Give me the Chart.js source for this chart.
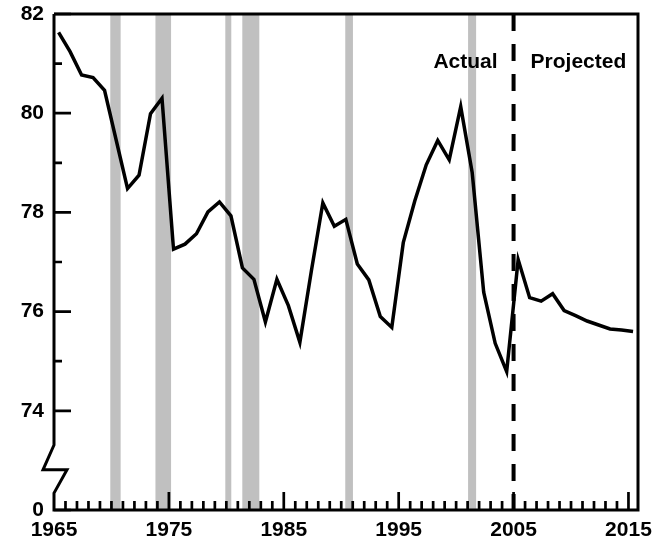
<!DOCTYPE html>
<html>
<head>
<meta charset="utf-8">
<script src="https://cdn.jsdelivr.net/npm/chart.js@4.4.0/dist/chart.umd.min.js"></script>
<style>
  html, body { margin: 0; padding: 0; background: #fff; }
  #wrap { width: 667px; height: 544px; }
</style>
</head>
<body>
<div id="wrap"><canvas id="chart" width="667" height="544"></canvas></div>
<script>
// Data
const years = [
  1965, 1966, 1967, 1968, 1969, 1970, 1971, 1972, 1973, 1974,
  1975, 1976, 1977, 1978, 1979, 1980, 1981, 1982, 1983, 1984,
  1985, 1986, 1987, 1988, 1989, 1990, 1991, 1992, 1993, 1994,
  1995, 1996, 1997, 1998, 1999, 2000, 2001, 2002, 2003, 2004,
  2005, 2006, 2007, 2008, 2009, 2010, 2011, 2012, 2013, 2014, 2015
];
const values = [
  81.63, 81.24, 80.77, 80.72, 80.46, 79.47, 78.48, 78.75, 79.99, 80.30,
  77.26, 77.36, 77.57, 78.01, 78.21, 77.93, 76.88, 76.65, 75.79, 76.65,
  76.12, 75.38, 76.82, 78.19, 77.72, 77.86, 76.96, 76.64, 75.90, 75.68,
  77.39, 78.23, 78.96, 79.45, 79.06, 80.13, 78.80, 76.39, 75.36, 74.79,
  77.05, 76.28, 76.21, 76.36, 76.02, 75.92, 75.81, 75.73, 75.65, 75.63, 75.60
];
const recessionStart = [1969.9, 1973.83, 1979.91, 1981.39, 1990.35, 2001.04];
const recessionEnd   = [1970.8, 1975.19, 1980.43, 1982.87, 1991.02, 2001.74];
const projectionStart = 2005;
const xTickValues = [1965, 1975, 1985, 1995, 2005, 2015];
const yTickValues = [72, 74, 76, 78, 80, 82];
const yTickLabels = ['0', '74', '76', '78', '80', '82'];
const yMinorTicks = [75, 77, 79, 81];

const FONT = '"Liberation Sans", Arial, sans-serif';

const overlay = {
  id: 'overlay',
  beforeDatasetsDraw(chart) {
    const { ctx, chartArea: a, scales: { x } } = chart;
    ctx.save();
    ctx.fillStyle = '#c0c0c0';
    recessionStart.forEach((s, i) => {
      const x0 = x.getPixelForValue(s);
      const x1 = x.getPixelForValue(recessionEnd[i]);
      ctx.fillRect(x0, a.top, x1 - x0, a.bottom - a.top);
    });
    ctx.restore();
  },
  afterDatasetsDraw(chart) {
    const { ctx, chartArea: a, scales: { x, y } } = chart;
    ctx.save();
    ctx.strokeStyle = '#000';
    ctx.lineCap = 'butt';

    // actual / projected divider
    const xd = x.getPixelForValue(projectionStart);
    ctx.lineWidth = 4;
    ctx.setLineDash([17, 13]);
    ctx.beginPath();
    ctx.moveTo(xd, a.top);
    ctx.lineTo(xd, a.bottom);
    ctx.stroke();
    ctx.setLineDash([]);

    // frame with broken left axis
    const breakTop = y.getPixelForValue(73.31);
    const breakMid = y.getPixelForValue(72.81);
    const breakLow = y.getPixelForValue(72.34);
    ctx.lineWidth = 3;
    ctx.lineJoin = 'miter';
    ctx.beginPath();
    ctx.moveTo(a.left, a.top);
    ctx.lineTo(a.right, a.top);
    ctx.lineTo(a.right, a.bottom);
    ctx.lineTo(a.left, a.bottom);
    ctx.lineTo(a.left, breakLow);
    ctx.lineTo(a.left + 13, breakMid);
    ctx.lineTo(a.left - 11, breakMid);
    ctx.lineTo(a.left, breakTop);
    ctx.lineTo(a.left, a.top);
    ctx.stroke();

    // ticks, pointing inward
    ctx.lineWidth = 2.7;
    ctx.beginPath();
    for (let yr = 1966; yr <= 2015; yr++) {
      const px = x.getPixelForValue(yr);
      const len = xTickValues.includes(yr) ? 18 : 9;
      ctx.moveTo(px, a.bottom);
      ctx.lineTo(px, a.bottom - len);
    }
    yTickValues.forEach(v => {
      const py = y.getPixelForValue(v);
      ctx.moveTo(a.left, py);
      ctx.lineTo(a.left + 17, py);
    });
    yMinorTicks.forEach(v => {
      const py = y.getPixelForValue(v);
      ctx.moveTo(a.left, py);
      ctx.lineTo(a.left + 8, py);
    });
    ctx.stroke();

    // labels
    ctx.fillStyle = '#000';
    ctx.font = 'bold 21px ' + FONT;
    ctx.textBaseline = 'alphabetic';
    ctx.textAlign = 'right';
    ctx.fillText('Actual', xd - 16, a.top + 54);
    ctx.textAlign = 'left';
    ctx.fillText('Projected', xd + 17, a.top + 54);
    ctx.restore();
  }
};

new Chart(document.getElementById('chart'), {
  type: 'line',
  data: {
    datasets: [{
      data: years.map((yr, i) => ({ x: yr + 0.4, y: values[i] })),
      borderColor: '#000',
      borderWidth: 3.5,
      pointRadius: 0,
      tension: 0,
      borderJoinStyle: 'miter',
      fill: false
    }]
  },
  options: {
    responsive: false,
    animation: false,
    layout: { padding: { top: 14, right: 29, left: 0, bottom: 0 } },
    plugins: { legend: { display: false }, tooltip: { enabled: false } },
    scales: {
      x: {
        type: 'linear',
        min: 1965,
        max: 2015.83,
        grid: { display: false, drawTicks: false },
        border: { display: false },
        afterBuildTicks: s => { s.ticks = xTickValues.map(v => ({ value: v })); },
        afterFit: s => { s.height = 34; s.paddingLeft = 0; s.paddingRight = 0; },
        ticks: {
          autoSkip: false,
          maxRotation: 0,
          padding: 8,
          color: '#000',
          font: { family: FONT, size: 21, weight: 'bold' },
          callback: v => String(v)
        }
      },
      y: {
        type: 'linear',
        min: 72,
        max: 82,
        grid: { display: false, drawTicks: false },
        border: { display: false },
        afterBuildTicks: s => { s.ticks = yTickValues.map(v => ({ value: v })); },
        afterFit: s => { s.width = 54; s.paddingTop = 0; s.paddingBottom = 0; },
        ticks: {
          padding: 10,
          color: '#000',
          font: { family: FONT, size: 21, weight: 'bold' },
          callback: v => yTickLabels[yTickValues.indexOf(v)]
        }
      }
    }
  },
  plugins: [overlay]
});
</script>
</body>
</html>
